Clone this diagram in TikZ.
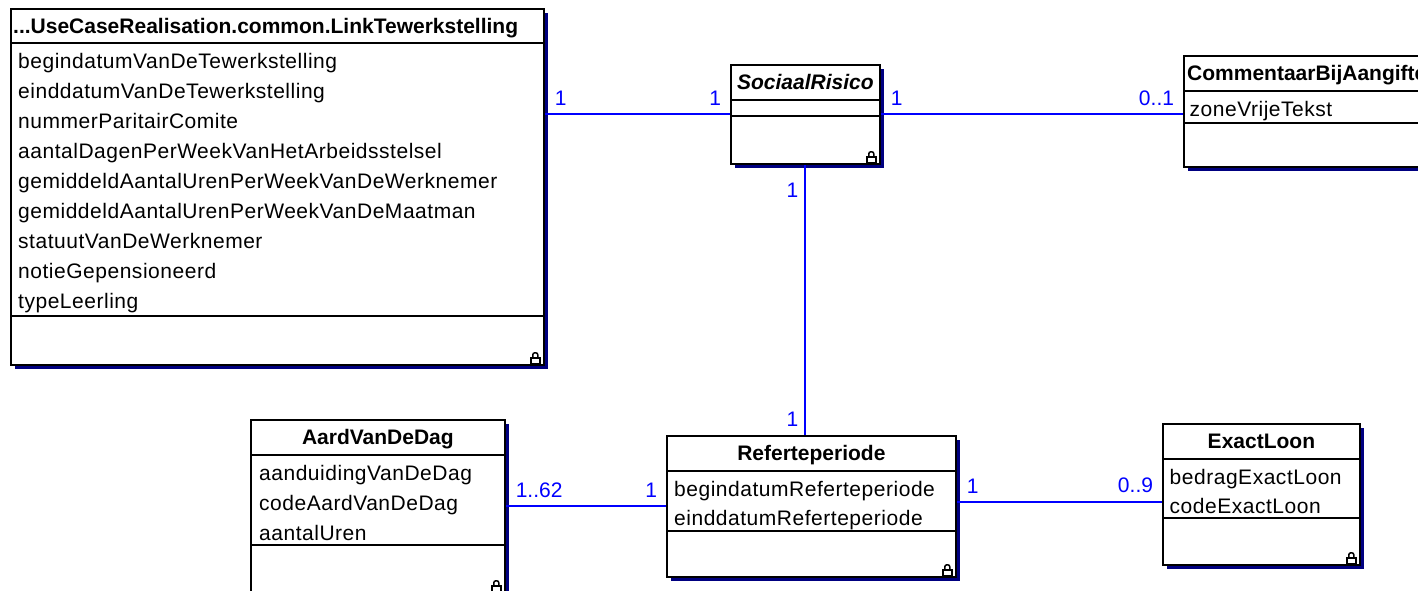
\documentclass[tikz,border=0pt]{standalone}
\usepackage{fontspec}
\setmainfont{Liberation Sans}
\usetikzlibrary{calc,shadows}

\definecolor{assocblue}{RGB}{0,0,255}
\definecolor{shadownavy}{RGB}{0,0,128}

\newcommand{\attrfont}{\fontsize{21}{25}\selectfont\addfontfeature{LetterSpace=2.5}}

\tikzset{
  classbox/.style={draw=black, line width=1.8pt, fill=white, anchor=north west, inner sep=0pt,
    drop shadow={shadow xshift=4pt, shadow yshift=-4pt, fill=shadownavy, opacity=1}},
  sepline/.style={line width=1.4pt},
  classname/.style={font=\fontsize{21}{25}\selectfont\bfseries, inner sep=0pt, anchor=base},
  abstractname/.style={classname, font=\fontsize{21}{25}\selectfont\bfseries\itshape},
  attr/.style={font=\attrfont, inner sep=0pt, anchor=base west},
  assoc/.style={draw=assocblue, line width=2pt},
  mult/.style={font=\fontsize{21}{25}\selectfont, text=assocblue, inner sep=0pt},
  multstart/.style={mult, anchor=south west, xshift=9pt, yshift=8pt},
  multend/.style={mult, anchor=south east, xshift=-8pt, yshift=8pt},
  padlock/.pic={
    \draw[line width=1.5pt] (-14,-2) rectangle (-5,-8);
    \draw[line width=1.5pt, rounded corners=2pt] (-12,-8) -- (-12,-13) -- (-7,-13) -- (-7,-8);
  }
}

\begin{document}
\begin{tikzpicture}[x=1pt, y=-1pt]
		%%%%% FRAME %%%%%
		\useasboundingbox (0,0) rectangle (1418,590);
		\clip (0,0) rectangle (1418,590);
		\fill[white] (0,0) rectangle (1418,590);
		
		%%%%% CLASSES %%%%%
		\node[classbox, minimum width=533pt, minimum height=356pt] (linktew) at (10,8) {};
		\draw[sepline] (linktew.west |- 0,43) -- (linktew.east |- 0,43);
		\draw[sepline] (linktew.west |- 0,316) -- (linktew.east |- 0,316);
		\node[classname, anchor=base west] (linktew-name) at (13,33) {...UseCaseRealisation.common.LinkTewerkstelling};
		\node[attr] (linktew-a1) at (18,68) {begindatumVanDeTewerkstelling};
		\node[attr] (linktew-a2) at (18,98) {einddatumVanDeTewerkstelling};
		\node[attr] (linktew-a3) at (18,128) {nummerParitairComite};
		\node[attr] (linktew-a4) at (18,158) {aantalDagenPerWeekVanHetArbeidsstelsel};
		\node[attr] (linktew-a5) at (18,188) {gemiddeldAantalUrenPerWeekVanDeWerknemer};
		\node[attr] (linktew-a6) at (18,218) {gemiddeldAantalUrenPerWeekVanDeMaatman};
		\node[attr] (linktew-a7) at (18,248) {statuutVanDeWerknemer};
		\node[attr] (linktew-a8) at (18,278) {notieGepensioneerd};
		\node[attr] (linktew-a9) at (18,308) {typeLeerling};
		\pic at (linktew.south east) {padlock};
		
		\node[classbox, minimum width=149pt, minimum height=99pt] (sociaal) at (730,64) {};
		\draw[sepline] (sociaal.west |- 0,100) -- (sociaal.east |- 0,100);
		\draw[sepline] (sociaal.west |- 0,116) -- (sociaal.east |- 0,116);
		\node[abstractname] (sociaal-name) at (sociaal.north |- 0,89) {SociaalRisico};
		\pic at (sociaal.south east) {padlock};
		
		\node[classbox, minimum width=250pt, minimum height=111pt] (comment) at (1183,55) {};
		\draw[sepline] (comment.west |- 0,91) -- (comment.east |- 0,91);
		\draw[sepline] (comment.west |- 0,123) -- (comment.east |- 0,123);
		\node[classname, anchor=base west] (comment-name) at (1187,80) {CommentaarBijAangifte};
		\node[attr] (comment-a1) at (1189.5,116) {zoneVrijeTekst};
		\pic at (comment.south east) {padlock};
		
		\node[classbox, minimum width=254pt, minimum height=173pt] (aard) at (250,419) {};
		\draw[sepline] (aard.west |- 0,455) -- (aard.east |- 0,455);
		\draw[sepline] (aard.west |- 0,545) -- (aard.east |- 0,545);
		\node[classname] (aard-name) at (aard.north |- 0,444) {AardVanDeDag};
		\node[attr] (aard-a1) at (259,480) {aanduidingVanDeDag};
		\node[attr] (aard-a2) at (259,510) {codeAardVanDeDag};
		\node[attr] (aard-a3) at (259,540) {aantalUren};
		\pic at (aard.south east) {padlock};
		
		\node[classbox, minimum width=289pt, minimum height=141pt] (ref) at (666,435) {};
		\draw[sepline] (ref.west |- 0,471) -- (ref.east |- 0,471);
		\draw[sepline] (ref.west |- 0,531) -- (ref.east |- 0,531);
		\node[classname] (ref-name) at (ref.north |- 0,460) {Referteperiode};
		\node[attr] (ref-a1) at (674,496) {begindatumReferteperiode};
		\node[attr] (ref-a2) at (674,525) {einddatumReferteperiode};
		\pic at (ref.south east) {padlock};
		
		\node[classbox, minimum width=197pt, minimum height=141pt] (exact) at (1162,423) {};
		\draw[sepline] (exact.west |- 0,459) -- (exact.east |- 0,459);
		\draw[sepline] (exact.west |- 0,518) -- (exact.east |- 0,518);
		\node[classname] (exact-name) at (exact.north |- 0,448) {ExactLoon};
		\node[attr] (exact-a1) at (1169.5,484) {bedragExactLoon};
		\node[attr] (exact-a2) at (1169.5,513) {codeExactLoon};
		\pic at (exact.south east) {padlock};
		
		%%%%% ASSOCIATIONS %%%%%
		\draw[assoc] (linktew.east |- sociaal.west) -- (sociaal.west)
			node[multstart, pos=0] {1} node[multend, pos=1] {1};
		\draw[assoc] (sociaal.east) -- (sociaal.east -| comment.west)
			node[multstart, pos=0] {1} node[multend, pos=1] {0..1};
		\draw[assoc] (sociaal.south) -- (sociaal.south |- ref.north)
			node[mult, pos=0, anchor=north east, xshift=-6pt, yshift=-17pt] {1}
			node[mult, pos=1, anchor=south east, xshift=-6pt, yshift=8pt] {1};
		\draw[assoc] (aard.east |- ref.west) -- (ref.west)
			node[multstart, pos=0] {1..62} node[multend, pos=1] {1};
		\draw[assoc] (ref.east |- 0,502) -- (exact.west |- 0,502)
			node[multstart, pos=0] {1} node[multend, pos=1] {0..9};
		
		%%%%% END %%%%%
	\end{tikzpicture}
\end{document}
